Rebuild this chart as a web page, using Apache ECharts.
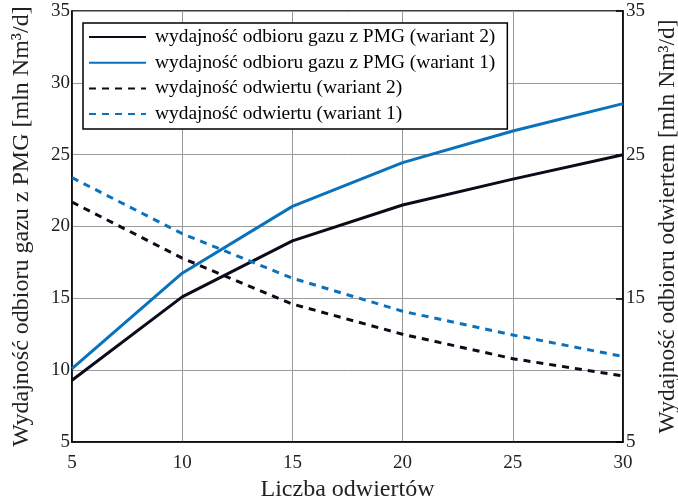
<!DOCTYPE html>
<html><head><meta charset="utf-8">
<script src="https://cdn.jsdelivr.net/npm/echarts@6/dist/echarts.min.js"></script>
<style>html,body{margin:0;padding:0;background:#fff}#c{width:678px;height:499px}</style>
</head><body><div id="c"></div>
<script>
const wells = [5, 10, 15, 20, 25, 30];
const pmgVar2 = [9.3, 15.1, 19.0, 21.5, 23.3, 25.0];
const pmgVar1 = [10.1, 16.75, 21.4, 24.45, 26.65, 28.55];
const wellVar2 = [21.7, 17.8, 14.6, 12.5, 10.8, 9.6];
const wellVar1 = [23.4, 19.5, 16.4, 14.1, 12.45, 10.95];
const names = [
  'wydajność odbioru gazu z PMG (wariant 2)',
  'wydajność odbioru gazu z PMG (wariant 1)',
  'wydajność odwiertu (wariant 2)',
  'wydajność odwiertu (wariant 1)'
];
const FONT = 'Liberation Serif';
const BLACK = '#0b0b1a', BLUE = '#0a72bd';
const pairs = a => wells.map((x, i) => [x, a[i]]);
const chart = echarts.init(document.getElementById('c'), null, {renderer: 'canvas'});
const mk = (name, data, color, dashed, yi) => ({
  name, type: 'line', data: pairs(data), yAxisIndex: yi, symbol: 'none', smooth: false,
  lineStyle: {color, width: 3, type: dashed ? [7, 6] : 'solid'}, itemStyle: {color}
});
const lbl = {fontFamily: FONT, fontSize: 19, color: '#222'};
chart.setOption({
  animation: false,
  textStyle: {fontFamily: FONT},
  grid: {left: 72, right: 55, top: 11, bottom: 57, show: true, borderColor: '#000', borderWidth: 1.5,
         containLabel: false, outerBoundsMode: 'none'},
  legend: {
    orient: 'vertical', left: 83, top: 23, data: names,
    backgroundColor: '#fff', borderColor: '#000', borderWidth: 1.5,
    padding: [4, 12, 5, 5], itemWidth: 57, itemHeight: 14, itemGap: 5.7,
    itemStyle: {opacity: 0},
    textStyle: {fontFamily: FONT, fontSize: 19.4, lineHeight: 20, color: '#000', padding: [0, 0, 0, 4]}
  },
  xAxis: {
    type: 'value', min: 5, max: 30, interval: 5,
    name: 'Liczba odwiertów', nameLocation: 'middle', nameGap: 31,
    nameTextStyle: {fontFamily: FONT, fontSize: 24, color: '#222'},
    axisLine: {show: true, lineStyle: {color: '#000', width: 1.5}},
    axisTick: {show: false},
    axisLabel: Object.assign({margin: 12}, lbl),
    splitLine: {show: true, lineStyle: {color: '#9a9a9a', width: 1}}
  },
  yAxis: [{
    type: 'value', min: 5, max: 35, interval: 5, position: 'left',
    name: 'Wydajność odbioru gazu z PMG [mln Nm³/d]', nameLocation: 'middle', nameGap: 38, nameRotate: 90,
    nameTextStyle: {fontFamily: FONT, fontSize: 24, color: '#222'},
    axisLine: {show: true, lineStyle: {color: '#000', width: 1.5}},
    axisTick: {show: false},
    axisLabel: Object.assign({margin: 2}, lbl),
    splitLine: {show: true, lineStyle: {color: '#9a9a9a', width: 1}}
  }, {
    type: 'value', min: 5, max: 35, interval: 10, position: 'right',
    name: 'Wydajność odbioru odwiertem [mln Nm³/d]', nameLocation: 'middle', nameGap: 27, nameRotate: 90,
    nameTextStyle: {fontFamily: FONT, fontSize: 23.5, color: '#222'},
    axisLine: {show: true, lineStyle: {color: '#000', width: 1.5}},
    axisTick: {show: true, inside: true, length: 7, lineStyle: {color: '#000', width: 1.5}},
    axisLabel: Object.assign({margin: 3}, lbl),
    splitLine: {show: false}
  }],
  series: [
    mk(names[0], pmgVar2, BLACK, false, 0),
    mk(names[1], pmgVar1, BLUE, false, 0),
    mk(names[2], wellVar2, BLACK, true, 1),
    mk(names[3], wellVar1, BLUE, true, 1)
  ]
});
</script></body></html>
